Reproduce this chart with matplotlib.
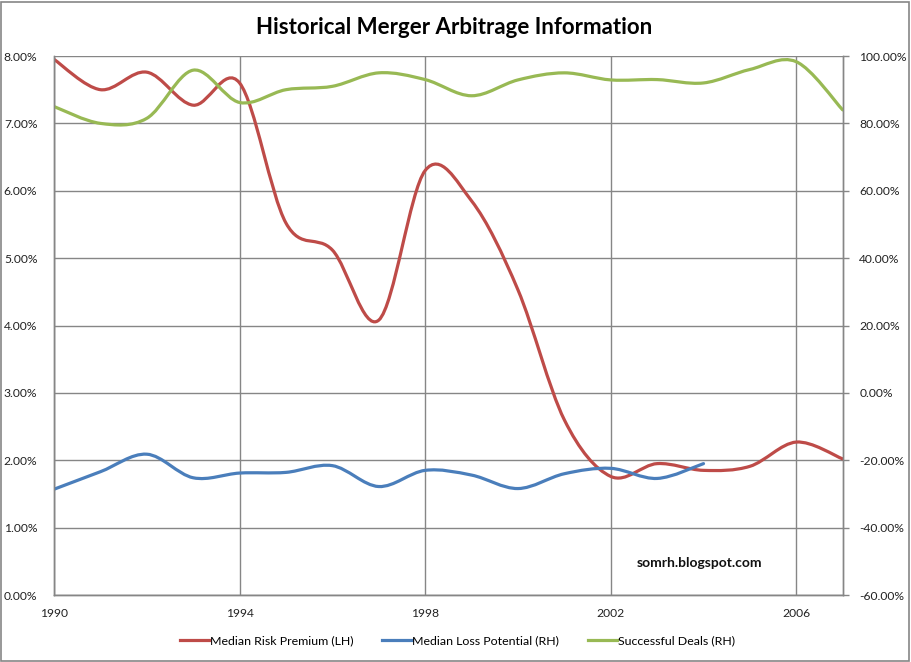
import matplotlib
matplotlib.use("Agg")
import matplotlib.pyplot as plt
from matplotlib.path import Path
from matplotlib.patches import PathPatch, Rectangle
from matplotlib.lines import Line2D
from matplotlib.ticker import FuncFormatter

# yearly data
years = list(range(1990, 2008))
risk_premium = [7.95, 7.50, 7.76, 7.27, 7.60, 5.52, 5.12, 4.08, 6.30, 5.85,
                4.53, 2.60, 1.76, 1.95, 1.85, 1.91, 2.27, 2.02]          # % (LH)
loss_years = list(range(1990, 2005))
loss_potential = [-28.6, -23.4, -18.2, -25.2, -23.8, -23.6, -21.6, -27.8,
                  -23.0, -24.4, -28.4, -24.0, -22.4, -25.4, -21.0]       # % (RH)
successful = [85.0, 80.0, 81.5, 95.8, 86.2, 90.0, 91.0, 95.0, 93.0, 88.2,
              92.9, 95.0, 92.9, 93.0, 92.0, 96.0, 98.3, 84.0]             # % (RH)

labels = ['Median Risk Premium (LH)', 'Median Loss Potential (RH)',
          'Successful Deals (RH)']
colors = ['#BE4B48', '#4A7EBB', '#98B954']
grid_c = '#868686'

plt.rcParams['font.family'] = ['Lato', 'DejaVu Sans']


def smooth_path(xs, ys):
    # Excel-style smoothed line: cubic bezier through every point
    n = len(xs)
    verts = [(xs[0], ys[0])]
    codes = [Path.MOVETO]
    for i in range(n - 1):
        i0 = max(i - 1, 0)
        i3 = min(i + 2, n - 1)
        c1 = (xs[i] + (xs[i + 1] - xs[i0]) / 6, ys[i] + (ys[i + 1] - ys[i0]) / 6)
        c2 = (xs[i + 1] - (xs[i3] - xs[i]) / 6, ys[i + 1] - (ys[i3] - ys[i]) / 6)
        verts += [c1, c2, (xs[i + 1], ys[i + 1])]
        codes += [Path.CURVE4] * 3
    return Path(verts, codes)


fig = plt.figure(figsize=(9.11, 6.62), dpi=100)
ax = fig.add_axes([0.0593, 0.1012, 0.8657, 0.8142])
ax2 = ax.twinx()

ax.set_xlim(1990, 2007)
ax.set_ylim(0, 8)
ax2.set_ylim(-60, 100)

ax.set_xticks([1990, 1994, 1998, 2002, 2006])
ax.set_yticks(range(0, 9))
ax2.set_yticks(range(-60, 101, 20))
ax.yaxis.set_major_formatter(FuncFormatter(lambda v, p: '%.2f%%' % v))
ax2.yaxis.set_major_formatter(FuncFormatter(lambda v, p: '%.2f%%' % v))

ax.grid(True, color=grid_c, linewidth=1.0)
ax.set_axisbelow(True)
for a in (ax, ax2):
    for s in a.spines.values():
        s.set_color(grid_c)
        s.set_linewidth(1.0)
ax.spines['top'].set_visible(False)
ax2.spines['top'].set_visible(False)

ax.tick_params(axis='both', length=0, labelsize=8.7, colors='#222222', pad=9)
ax.tick_params(axis='y', pad=12)
ax2.tick_params(axis='y', length=4, width=1, color=grid_c, labelsize=8.7,
                labelcolor='#222222', pad=8)

lw = 2.3
ax.add_patch(PathPatch(smooth_path(years, risk_premium), fill=False,
                       edgecolor=colors[0], linewidth=lw, capstyle='round'))
ax2.add_patch(PathPatch(smooth_path(loss_years, loss_potential), fill=False,
                        edgecolor=colors[1], linewidth=lw, capstyle='round'))
ax2.add_patch(PathPatch(smooth_path(years, successful), fill=False,
                        edgecolor=colors[2], linewidth=lw, capstyle='round'))

handles = [Line2D([], [], color=c, linewidth=2.3) for c in colors]
fig.legend(handles, labels, loc='center', bbox_to_anchor=(0.502, 0.032), ncol=3,
           frameon=False, fontsize=8.9, handlelength=2.4, handletextpad=0.05,
           columnspacing=2.3)

fig.text(0.498, 0.958, 'Historical Merger Arbitrage Information',
         ha='center', va='center', fontsize=16, fontweight='bold')
fig.text(0.768, 0.149, 'somrh.blogspot.com', ha='center', va='center',
         fontsize=10, fontweight='bold', color='#111111')

fig.patches.append(Rectangle((0.001, 0.0015), 0.997, 0.996, transform=fig.transFigure,
                             fill=False, edgecolor=grid_c, linewidth=1.2))

fig.savefig('out.png', dpi=100)
